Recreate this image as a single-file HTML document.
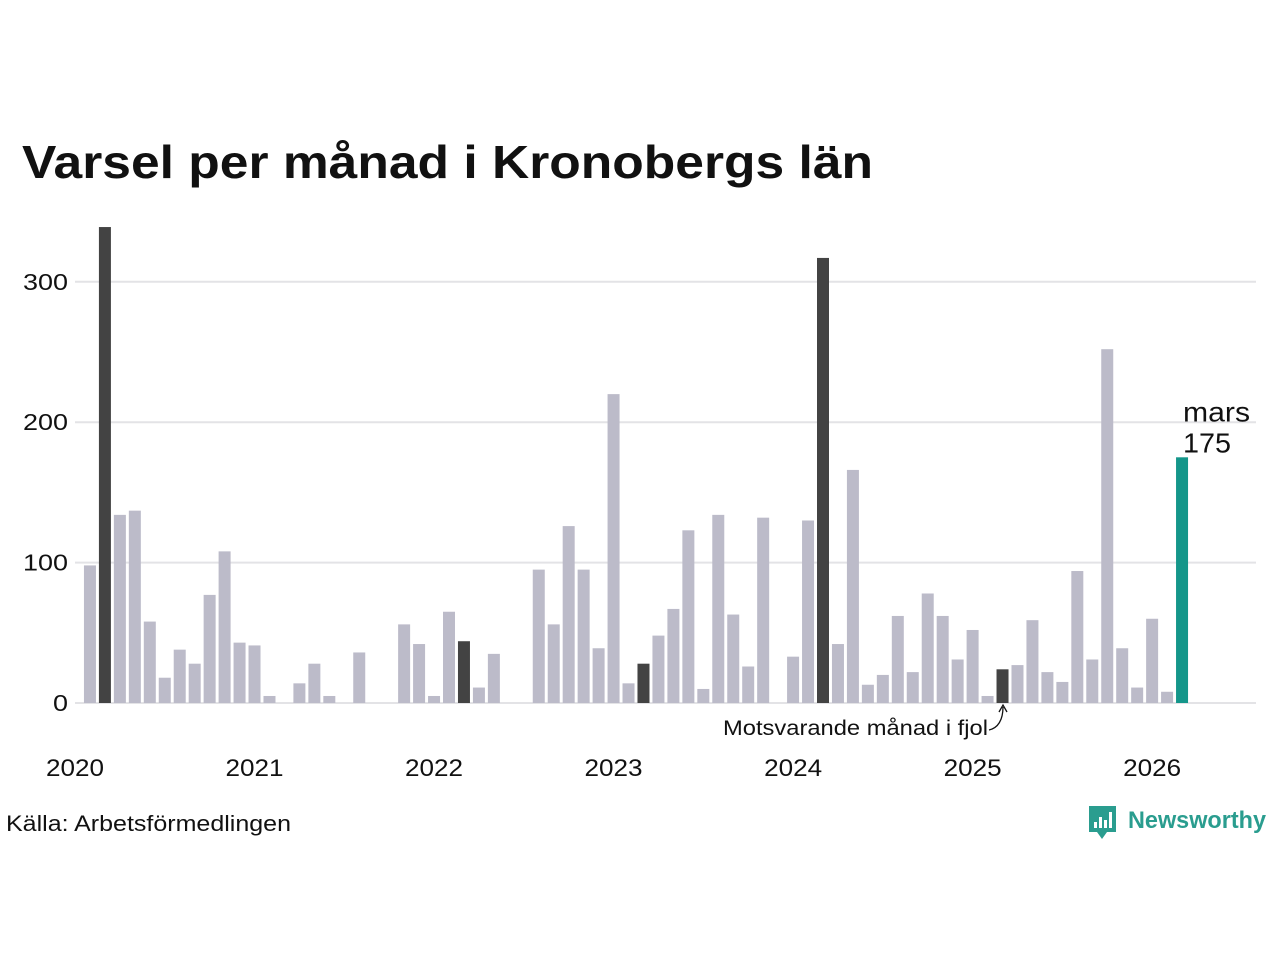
<!DOCTYPE html>
<html><head><meta charset="utf-8"><style>
body{margin:0;background:#fff;}
svg text{font-family:"Liberation Sans","DejaVu Sans",sans-serif;}
</style></head><body>
<svg id="chart" width="1280" height="960" xmlns="http://www.w3.org/2000/svg">
<rect width="1280" height="960" fill="#fff"/>
<text x="22" y="178" font-size="46" font-weight="bold" fill="#111" textLength="851" lengthAdjust="spacingAndGlyphs">Varsel per månad i Kronobergs län</text>
<g id="grid"></g>
<g id="bars"></g>
<g id="xlabels"></g>
<text x="723" y="735" font-size="21" fill="#111" textLength="265" lengthAdjust="spacingAndGlyphs">Motsvarande månad i fjol</text>
<path d="M989,730 C998,728 1003,720 1003,707" fill="none" stroke="#111" stroke-width="1.3"/>
<path d="M999,712 L1003,705 L1007,712" fill="none" stroke="#111" stroke-width="1.3"/>
<text id="lbl1" font-size="28" fill="#111" textLength="67" lengthAdjust="spacingAndGlyphs">mars</text>
<text id="lbl2" font-size="28" fill="#111" textLength="48" lengthAdjust="spacingAndGlyphs">175</text>
<text x="6" y="831" font-size="22" fill="#111" textLength="285" lengthAdjust="spacingAndGlyphs">Källa: Arbetsförmedlingen</text>
<g>
<path d="M1089,806 h27 v26 h-9 l-5,7 l-5,-7 h-8 z" fill="#2a9d8f"/>
<rect x="1094" y="822" width="3" height="6" fill="#fff"/><rect x="1099" y="817" width="3" height="11" fill="#fff"/><rect x="1104" y="820" width="3" height="8" fill="#fff"/><rect x="1109" y="812" width="3" height="16" fill="#fff"/>
<text x="1128" y="828" font-size="24" font-weight="bold" fill="#2a9d8f" textLength="138" lengthAdjust="spacingAndGlyphs">Newsworthy</text>
</g>
</svg>
<script>
const months = Array.from({length:75},(_, i)=>i); // month index from Jan 2020
const values = [0,98,339,134,137,58,18,38,28,77,108,43,
41,5,0,14,28,5,0,36,0,0,56,42,
5,65,44,11,35,0,0,95,56,126,95,39,
220,14,28,48,67,123,10,134,63,26,132,0,
33,130,317,42,166,13,20,62,22,78,62,31,
52,5,24,27,59,22,15,94,31,252,39,11,
60,8,175];
const yTicks = [0,100,200,300];
const yearLabels = ["2020","2021","2022","2023","2024","2025","2026"];
const currentLabel = ["mars","175"];

const NS="http://www.w3.org/2000/svg";
const y0=703, pxPer=1.404, x0=75, step=14.96, bw=12;
const ys=v=>y0-v*pxPer, xs=i=>x0+i*step;
function mk(tag,attrs,parent){const e=document.createElementNS(NS,tag);for(const k in attrs)e.setAttribute(k,attrs[k]);parent.appendChild(e);return e;}
const grid=document.getElementById('grid');
yTicks.forEach(t=>{
  const l=mk('line',{x1:75,x2:1256,y1:ys(t),y2:ys(t),stroke:'#e3e3e6','stroke-width':2},grid);
  
  
  const tx=mk('text',{x:68,y:ys(t)+8,'font-size':23,'text-anchor':'end',fill:'#111',textLength:String(t).length*15,lengthAdjust:'spacingAndGlyphs'},grid);
  tx.textContent=t;
  
  
});
const bars=document.getElementById('bars');
const last=values.length-1;
values.forEach((v,i)=>{
  if(v<=0)return;
  let fill='#bcbbc9';
  if(i===last)fill='#14968a';
  else if(i%12===last%12)fill='#434343';
  const r=mk('rect',{x:xs(months[i])-bw/2,y:ys(v),width:bw,height:v*pxPer,fill:fill},bars);
  
  
});
const xl=document.getElementById('xlabels');
yearLabels.forEach((y,k)=>{
  const t=mk('text',{x:xs(k*12),y:776,'font-size':24,'text-anchor':'middle',fill:'#111',textLength:58,lengthAdjust:'spacingAndGlyphs'},xl);
  t.textContent=y;
  
  
});
const lx=xs(last)+1, ly=ys(values[last]);
const l1=document.getElementById('lbl1'), l2=document.getElementById('lbl2');
l1.textContent=currentLabel[0]; l2.textContent=currentLabel[1];
l1.setAttribute('x',lx); l1.setAttribute('y',ly-36);
l2.setAttribute('x',lx); l2.setAttribute('y',ly-5);
</script>
</body></html>
